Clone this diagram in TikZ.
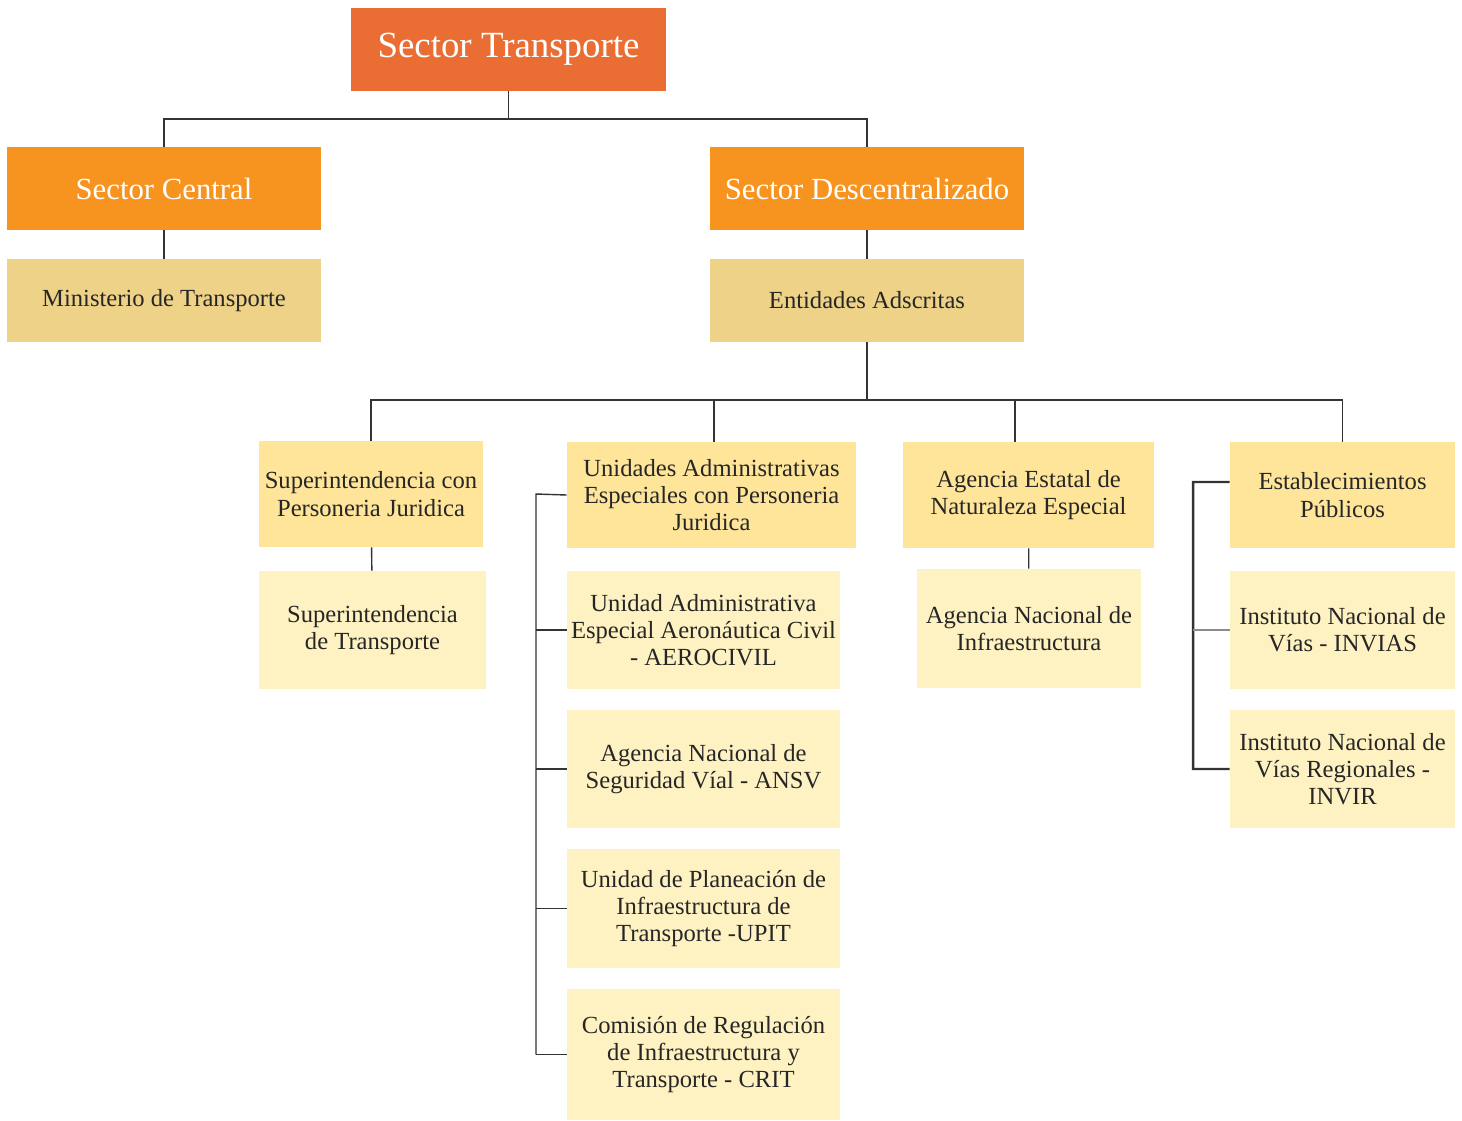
\documentclass[tikz,border=0pt]{standalone}
\usepackage{fontspec}
\setmainfont{Liberation Serif}
\usepackage{xcolor}
\usetikzlibrary{calc}
\definecolor{topOrange}{HTML}{EA6E33}
\definecolor{secOrange}{HTML}{F7931F}
\definecolor{entTan}{HTML}{EDD287}
\definecolor{grpYellow}{HTML}{FFE59A}
\definecolor{subCream}{HTML}{FFF2C2}
\tikzset{
  basebox/.style = {rectangle, inner sep=0pt, align=center},
  topbox/.style  = {basebox, fill=topOrange, text=white, minimum width=6.3cm, minimum height=1.66cm, font=\fontsize{21}{25}\selectfont},
  secbox/.style  = {basebox, fill=secOrange, text=white, minimum width=6.28cm, minimum height=1.66cm, font=\fontsize{17.5}{21}\selectfont},
  entbox/.style  = {basebox, fill=entTan, text=black!85, minimum width=6.28cm, minimum height=1.66cm, font=\fontsize{14}{15.5}\selectfont},
  grpbox/.style  = {basebox, fill=grpYellow, text=black!85, minimum height=2.12cm, font=\fontsize{14}{15.5}\selectfont},
  subbox/.style  = {basebox, fill=subCream, text=black!85, minimum height=2.36cm, font=\fontsize{14}{15.5}\selectfont},
  link/.style    = {draw=black!80, line width=0.8pt},
}

\begin{document}
\begin{tikzpicture} [x=0.02cm, y=-0.02cm]
    \useasboundingbox (0,0) rectangle (1462,1120);

    % upper levels
    \node[topbox] (trans)   at (508.5,49.5)  {Sector Transporte};
    \node[secbox] (central) at (164,188.5)   {Sector Central};
    \node[secbox] (descent) at (867,188.5)   {Sector Descentralizado};
    \node[entbox] (minis)   at (164,300.5)   {Ministerio de Transporte};
    \node[entbox] (adscr)   at (867,300.5)   {Entidades Adscritas};

    % groups
    \node[grpbox, minimum width=4.48cm] (superj) at (371,494)    {Superintendencia con\\Personeria Juridica};
    \node[grpbox, minimum width=5.78cm] (uae)    at (711.5,495)  {Unidades Administrativas\\Especiales con Personeria\\Juridica};
    \node[grpbox, minimum width=5.02cm] (agest)  at (1028.5,495) {Agencia Estatal de\\Naturaleza Especial};
    \node[grpbox, minimum width=4.5cm]  (estab)  at (1342.5,495) {Establecimientos\\Públicos};

    % entities
    \node[subbox, minimum width=4.54cm] (supert) at (372.5,630)   {Superintendencia\\de Transporte};
    \node[subbox, minimum width=5.46cm] (aero)   at (703.5,630)   {Unidad Administrativa\\Especial Aeronáutica Civil\\- AEROCIVIL};
    \node[subbox, minimum width=5.46cm] (ansv)   at (703.5,769)   {Agencia Nacional de\\Seguridad Víal - ANSV};
    \node[subbox, minimum width=5.46cm, minimum height=2.38cm] (upit) at (703.5,908.5) {Unidad de Planeación de\\Infraestructura de\\Transporte -UPIT};
    \node[subbox, minimum width=5.46cm, minimum height=2.62cm] (crit) at (703.5,1054.5) {Comisión de Regulación\\de Infraestructura y\\Transporte - CRIT};
    \node[subbox, minimum width=4.48cm, minimum height=2.38cm] (ani) at (1029,628.5) {Agencia Nacional de\\Infraestructura};
    \node[subbox, minimum width=4.5cm]  (invias) at (1342.5,630)  {Instituto Nacional de\\Vías - INVIAS};
    \node[subbox, minimum width=4.5cm]  (invir)  at (1342.5,769)  {Instituto Nacional de\\Vías Regionales -\\INVIR};

    % connectors
    \coordinate (busA) at (508.5,119);
    \coordinate (busB) at (867,400);
    \draw[link] (trans) -- (busA);
    \draw[link] (central) |- (busA) -| (descent);
    \draw[link] (central) -- (minis);
    \draw[link] (descent) -- (adscr);
    \draw[link, line width=1.1pt] (adscr) -- (busB);
    \draw[link] (superj) |- (busB) -| (estab);
    \draw[link] ([xshift=0.05cm]uae.north) -- ([xshift=0.05cm]uae.north |- busB);
    \draw[link] ([xshift=-0.27cm]agest.north) -- ([xshift=-0.27cm]agest.north |- busB);
    \draw[link] (superj) -- (supert);
    \draw[link] (agest) -- (ani);

    \coordinate (uaeRail) at (536,494);
    \draw[link] (uae.west) -- (uaeRail) -- (uaeRail |- crit.west);
    \foreach \n in {aero,ansv,upit,crit}
      \draw[link] (\n.west) -- (\n.west -| uaeRail);

    \coordinate (estRail) at (1193,482);
    \draw[link, line width=1.4pt] ([yshift=0.26cm]estab.west) -- (estRail) |- (invir.west);
    \draw[link, draw=black!45] (invias.west) -- (invias.west -| estRail);
\end{tikzpicture}
\end{document}
